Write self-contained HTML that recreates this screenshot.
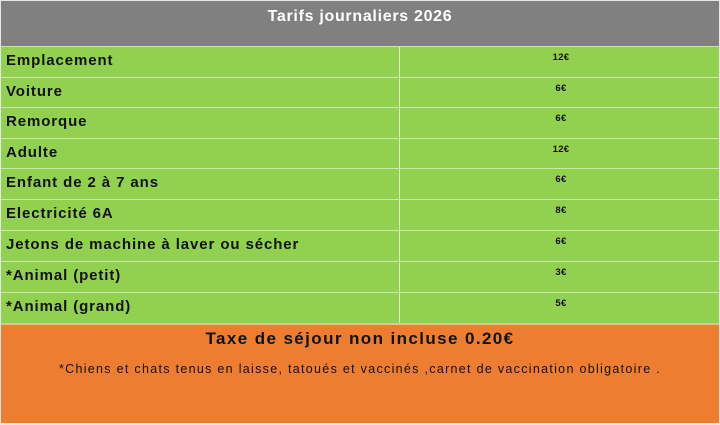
<!DOCTYPE html>
<html><head><meta charset="utf-8"><style>
body{margin:0;width:720px;height:425px;background:#fff;position:relative;overflow:hidden;font-family:"Liberation Sans",sans-serif;}
.a{position:absolute;box-sizing:border-box}
.hd{left:1px;top:1px;width:718px;height:45px;background:#808080;color:#fff;font-weight:bold;font-size:16px;letter-spacing:0.7px;text-align:center;line-height:32px}
.r{left:1px;width:718px;background:#92d050;border-top:1px solid #c8eaa6}
.l{position:absolute;left:5px;font-weight:bold;font-size:15px;letter-spacing:0.9px;color:#111;top:5px}
.v{position:absolute;left:520px;width:80px;text-align:center;font-weight:bold;font-size:9.5px;letter-spacing:0.3px;color:#111;top:5px}
.d{position:absolute;left:398px;top:0;bottom:0;width:1px;background:#d8f0c0}
.or{left:1px;top:323px;width:718px;height:100px;background:#ed7d31;border-top:2px solid #f4b98c;text-align:center;color:#111}
</style></head><body>
<div class="a" style="left:0;top:0;width:720px;height:425px;background:#e6e6e6"></div>
<div class="a hd">Tarifs journaliers 2026</div>
<div class="a r" style="top:46px;height:31px"><div class="d"></div><span class="l">Emplacement</span><span class="v">12€</span></div>
<div class="a r" style="top:77px;height:30px"><div class="d"></div><span class="l">Voiture</span><span class="v">6€</span></div>
<div class="a r" style="top:107px;height:31px"><div class="d"></div><span class="l">Remorque</span><span class="v">6€</span></div>
<div class="a r" style="top:138px;height:30px"><div class="d"></div><span class="l">Adulte</span><span class="v">12€</span></div>
<div class="a r" style="top:168px;height:31px"><div class="d"></div><span class="l">Enfant de 2 à 7 ans</span><span class="v">6€</span></div>
<div class="a r" style="top:199px;height:31px"><div class="d"></div><span class="l">Electricité 6A</span><span class="v">8€</span></div>
<div class="a r" style="top:230px;height:31px"><div class="d"></div><span class="l">Jetons de machine à laver ou sécher</span><span class="v">6€</span></div>
<div class="a r" style="top:261px;height:31px"><div class="d"></div><span class="l">*Animal (petit)</span><span class="v">3€</span></div>
<div class="a r" style="top:292px;height:31px"><div class="d"></div><span class="l">*Animal (grand)</span><span class="v">5€</span></div>
<div class="a or">
<div style="font-weight:bold;font-size:17px;letter-spacing:1.4px;margin-top:4px">Taxe de séjour non incluse 0.20€</div>
<div style="font-size:12.5px;letter-spacing:1.3px;margin-top:13px">*Chiens et chats tenus en laisse, tatoués et vaccinés ,carnet de vaccination obligatoire .</div>
</div>
</body></html>
